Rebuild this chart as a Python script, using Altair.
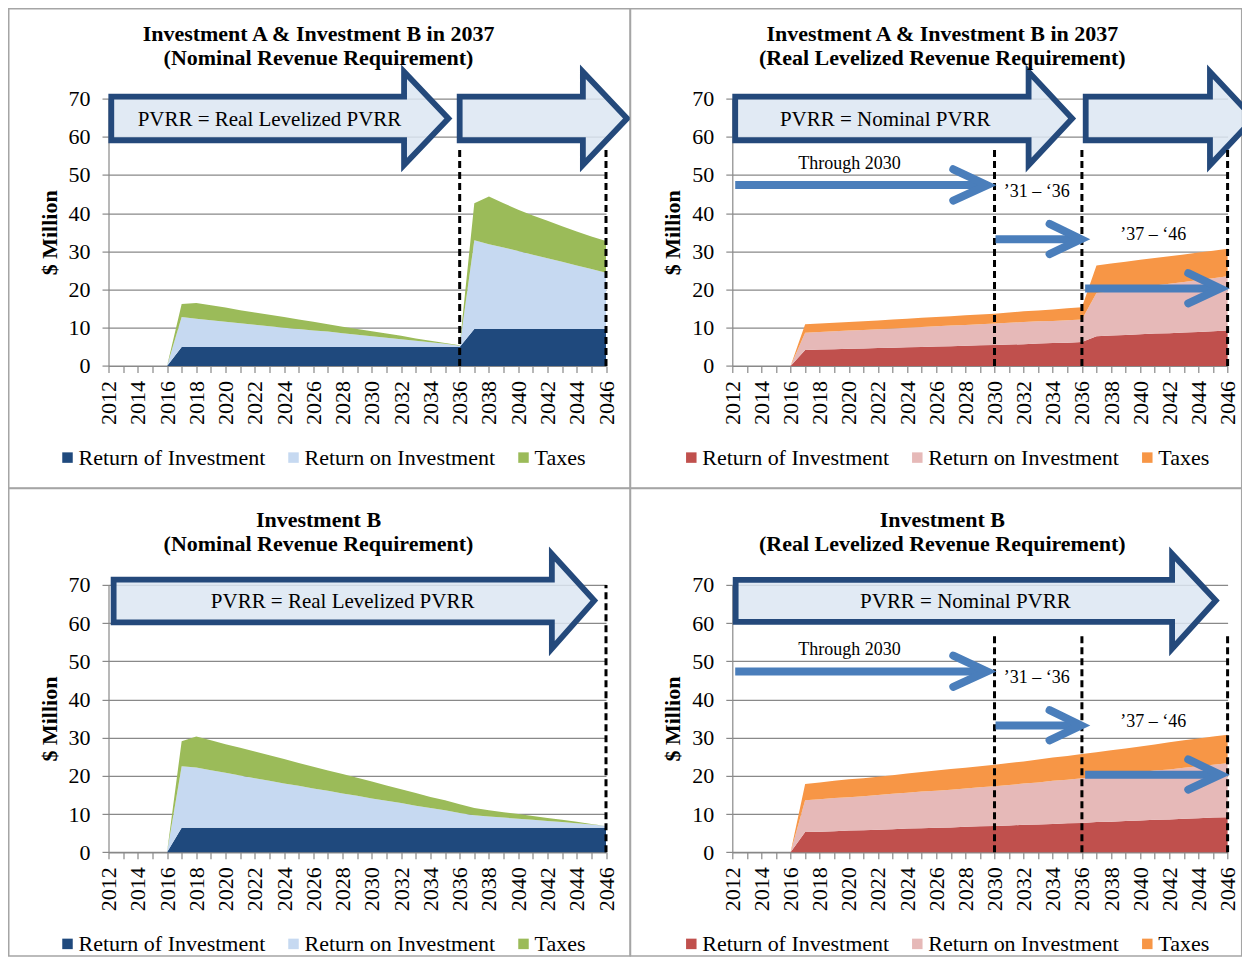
import altair as alt
import pandas as pd

FONT = "Liberation Serif"
GRID = "#898989"
FRAME = "#A5A5A5"
ARROW_FILL = "#DCE6F2"
ARROW_LINE = "#24497B"
BLUE = "#4A7EBB"

YEARS = list(range(2012, 2047))
SERIES = ["Return of Investment", "Return on Investment", "Taxes"]
COLORS_NOMINAL = ["#1F497D", "#C6D9F1", "#9BBB59"]
COLORS_REAL = ["#C0504D", "#E6B9B8", "#F79646"]
Y_TICKS = [0, 10, 20, 30, 40, 50, 60, 70]

# ---- values, 2012 .. 2046 ($ million) ----
AB_NOM_OF = [0, 0, 0, 0, 0,
             5.0, 5.0, 5.0, 5.0, 5.0, 5.0, 5.0, 5.0, 5.0, 5.0,
             5.0, 5.0, 5.0, 5.0, 5.0, 5.0, 5.0, 5.0, 5.0, 5.0,
             9.7, 9.7, 9.7, 9.7, 9.7, 9.7, 9.7, 9.7, 9.7, 9.7]
AB_NOM_ON = [0, 0, 0, 0, 0,
             7.8, 7.4, 7.0, 6.6, 6.2, 5.8, 5.4, 5.0, 4.7, 4.3,
             4.0, 3.6, 3.2, 2.8, 2.4, 2.0, 1.6, 1.2, 0.8, 0.3,
             23.2, 22.2, 21.3, 20.4, 19.4, 18.5, 17.6, 16.6, 15.7, 14.7]
AB_NOM_TAX = [0, 0, 0, 0, 0,
              3.4, 4.1, 3.9, 3.7, 3.4, 3.2, 3.0, 2.8, 2.5, 2.3,
              1.9, 1.7, 1.5, 1.3, 1.1, 0.9, 0.6, 0.4, 0.2, 0.1,
              9.7, 12.5, 11.6, 10.8, 10.3, 9.8, 9.3, 8.9, 8.5, 8.3]

AB_REAL_OF = [0, 0, 0, 0, 0,
              4.2, 4.3, 4.4, 4.5, 4.6, 4.7, 4.8, 4.9, 5.0, 5.1,
              5.2, 5.3, 5.4, 5.5, 5.6, 5.7, 5.9, 6.0, 6.1, 6.3,
              7.8, 8.0, 8.1, 8.3, 8.5, 8.6, 8.8, 8.9, 9.1, 9.3]
AB_REAL_ON = [0, 0, 0, 0, 0,
              4.5, 4.6, 4.7, 4.8, 4.8, 4.9, 5.0, 5.1, 5.2, 5.3,
              5.4, 5.4, 5.5, 5.6, 5.7, 5.8, 5.8, 5.8, 5.9, 5.9,
              11.3, 11.6, 12.0, 12.3, 12.6, 12.9, 13.2, 13.6, 13.9, 14.2]
AB_REAL_TAX = [0, 0, 0, 0, 0,
               2.2, 2.2, 2.2, 2.2, 2.3, 2.3, 2.4, 2.4, 2.4, 2.4,
               2.4, 2.6, 2.6, 2.6, 2.7, 2.8, 2.8, 3.0, 3.1, 3.2,
               7.2, 7.2, 7.2, 7.2, 7.2, 7.2, 7.2, 7.2, 7.2, 7.2]

B_NOM_OF = [0, 0, 0, 0, 0,
            6.4, 6.4, 6.4, 6.4, 6.4, 6.4, 6.4, 6.4, 6.4, 6.4,
            6.4, 6.4, 6.4, 6.4, 6.4, 6.4, 6.4, 6.4, 6.4, 6.4,
            6.4, 6.4, 6.4, 6.4, 6.4, 6.4, 6.4, 6.4, 6.4, 6.4]
B_NOM_ON = [0, 0, 0, 0, 0,
            16.1, 15.8, 15.1, 14.4, 13.7, 13.0, 12.3, 11.6, 11.0, 10.3,
            9.7, 9.0, 8.4, 7.7, 7.1, 6.5, 5.8, 5.2, 4.6, 3.9,
            3.3, 3.0, 2.7, 2.4, 2.1, 1.8, 1.5, 1.2, 0.9, 0.5]
B_NOM_TAX = [0, 0, 0, 0, 0,
             6.6, 8.1, 7.8, 7.5, 7.3, 7.0, 6.7, 6.4, 6.0, 5.7,
             5.3, 5.1, 4.7, 4.4, 4.0, 3.6, 3.3, 2.9, 2.6, 2.3,
             1.9, 1.6, 1.4, 1.2, 1.0, 0.8, 0.6, 0.4, 0.1, 0.0]

B_REAL_OF = [0, 0, 0, 0, 0,
             5.3, 5.4, 5.5, 5.7, 5.8, 5.9, 6.0, 6.2, 6.3, 6.4,
             6.5, 6.7, 6.8, 6.9, 7.0, 7.2, 7.3, 7.4, 7.6, 7.7,
             7.9, 8.0, 8.2, 8.3, 8.5, 8.6, 8.8, 8.9, 9.1, 9.2]
B_REAL_ON = [0, 0, 0, 0, 0,
             8.3, 8.5, 8.7, 8.7, 8.9, 9.1, 9.3, 9.4, 9.6, 9.7,
             9.9, 10.0, 10.2, 10.4, 10.6, 10.8, 11.0, 11.3, 11.4, 11.7,
             11.9, 12.2, 12.4, 12.7, 12.9, 13.1, 13.3, 13.6, 13.8, 14.1]
B_REAL_TAX = [0, 0, 0, 0, 0,
              4.3, 4.4, 4.5, 4.7, 4.7, 4.8, 4.9, 5.0, 5.1, 5.3,
              5.4, 5.4, 5.5, 5.6, 5.8, 5.8, 6.0, 6.1, 6.2, 6.3,
              6.4, 6.5, 6.6, 6.7, 6.8, 7.1, 7.2, 7.3, 7.4, 7.5]

# ---- annotation shapes (year, $M) ----
P1_ARROWS = [
    [(2012.19, 70.5), (2032.2, 70.5), (2032.2, 77.0), (2035.23, 64.8), (2032.2, 52.6), (2032.2, 59.1), (2012.19, 59.1)],
    [(2036.0, 70.5), (2044.42, 70.5), (2044.42, 77.0), (2047.44, 64.8), (2044.42, 52.6), (2044.42, 59.1), (2036.0, 59.1)],
]
P2_ARROWS = [
    [(2012.2, 70.5), (2032.34, 70.5), (2032.34, 77.0), (2035.33, 64.8), (2032.34, 52.6), (2032.34, 59.1), (2012.2, 59.1)],
    [(2036.26, 70.5), (2044.79, 70.5), (2044.79, 77.0), (2047.8, 64.8), (2044.79, 52.6), (2044.79, 59.1), (2036.26, 59.1)],
]
P3_ARROWS = [
    [(2012.35, 71.4), (2042.3, 71.4), (2042.3, 78.1), (2045.2, 65.9), (2042.3, 53.3), (2042.3, 60.2), (2012.35, 60.2)],
]
P4_ARROWS = [
    [(2012.23, 71.3), (2042.19, 71.3), (2042.19, 78.1), (2045.19, 65.9), (2042.19, 53.3), (2042.19, 60.3), (2012.23, 60.3)],
]

BLUE_SHAFTS = [(2012.2, 2029.1, 47.35), (2030.07, 2035.6, 33.2), (2036.22, 2045.1, 20.3)]
BLUE_HEADS = [
    [(2027.17, 51.5), (2029.49, 47.35), (2027.17, 43.3)],
    [(2033.78, 37.2), (2035.94, 33.2), (2033.78, 29.3)],
    [(2043.3, 24.3), (2045.5, 20.3), (2043.3, 16.4)],
]
PERIOD_LABELS = ["Through 2030", "\u201931 \u2013 \u201836", "\u201937 \u2013 \u201846"]
PERIOD_POS = [(2020.05, 52.9), (2032.9, 45.6), (2040.9, 34.2)]

XS = alt.Scale(domain=[2012, 2046], nice=False, zero=False)
YS = alt.Scale(domain=[0, 70], nice=False, zero=True)
ONE = pd.DataFrame({"k": [0]})

LEFT_W, RIGHT_W, PLOT_H = 497.5, 495.3, 267.4

X_AXIS = alt.Axis(values=YEARS, format="d",
                  labelExpr="datum.value % 2 === 0 ? datum.label : ''",
                  labelAngle=270, labelFont=FONT, labelFontSize=22, labelColor="black",
                  labelPadding=8, labelFlush=False, labelOverlap=False,
                  tickSize=6.5, tickColor=GRID, tickWidth=1.2,
                  domainColor=GRID, domainWidth=1.2, grid=False, title=None)
Y_AXIS = alt.Axis(values=Y_TICKS, labelFont=FONT, labelFontSize=22, labelColor="black",
                  labelPadding=12, tickSize=6.5, tickColor=GRID, tickWidth=1.2,
                  domainColor=GRID, domainWidth=1.2, grid=True, gridColor=GRID,
                  gridWidth=1.2, title="$ Million", titleFont=FONT, titleFontSize=22,
                  titleFontWeight="bold", titleColor="black", titlePadding=7)


def xq(field):
    return alt.X(field, type="quantitative", scale=XS, axis=X_AXIS)


def yq(field, **kw):
    return alt.Y(field, type="quantitative", scale=YS, axis=Y_AXIS, **kw)


def panel(of_v, on_v, tax_v, colors, title1, title2, width, frame,
          arrows, arrow_label, arrow_label_pos, dash_years, dash_top, blue_arrows):
    rows = []
    for k, (name, vals) in enumerate(zip(SERIES, [of_v, on_v, tax_v])):
        assert len(vals) == len(YEARS)
        for yr, v in zip(YEARS, vals):
            rows.append({"year": yr, "value": v, "series": name, "k": k})
    df = pd.DataFrame(rows)

    legend = alt.Legend(title=None, orient="none", legendX=-52, legendY=348,
                        direction="horizontal", columns=3, symbolType="square",
                        symbolSize=110, symbolStrokeWidth=0, labelFont=FONT,
                        labelFontSize=22, labelColor="black", columnPadding=17,
                        labelOffset=0, labelLimit=400, padding=0)

    border = alt.Chart(ONE).mark_rect(fillOpacity=0, stroke=FRAME, strokeWidth=1.5).encode(
        x=alt.value(frame[0]), x2=alt.value(frame[1]),
        y=alt.value(frame[2]), y2=alt.value(frame[3]))

    area = alt.Chart(df).mark_area(interpolate="linear").encode(
        x=xq("year"),
        y=yq("value", stack="zero"),
        color=alt.Color("series:N", scale=alt.Scale(domain=SERIES, range=colors),
                        sort=SERIES, legend=legend),
        order=alt.Order("k:Q", sort="ascending"),
    )

    arows = []
    for i, pts in enumerate(arrows):
        for j, (ax, ay) in enumerate(pts):
            arows.append({"year": ax, "value": ay, "aid": i, "o": j})
    big = alt.Chart(pd.DataFrame(arows)).mark_line(
        interpolate="linear-closed", fill=ARROW_FILL, fillOpacity=0.85,
        stroke=ARROW_LINE, strokeWidth=5.8, strokeJoin="miter").encode(
        x=xq("year"), y=yq("value"), detail="aid:N", order="o:Q")

    big_text = alt.Chart(pd.DataFrame({"year": [arrow_label_pos[0]],
                                       "value": [arrow_label_pos[1]],
                                       "t": [arrow_label]})).mark_text(
        font=FONT, fontSize=21, color="black", align="center", baseline="middle").encode(
        x=xq("year"), y=yq("value"), text="t:N")

    dashes = alt.Chart(pd.DataFrame({"year": dash_years, "value": [0] * len(dash_years),
                                     "top": [dash_top] * len(dash_years)})).mark_rule(
        color="black", strokeWidth=3, strokeDash=[7, 4]).encode(
        x=xq("year"), y=yq("value"), y2="top:Q")

    layers = [border, area, big, big_text, dashes]

    if blue_arrows:
        shafts = alt.Chart(pd.DataFrame({"year": [s[0] for s in BLUE_SHAFTS],
                                         "end": [s[1] for s in BLUE_SHAFTS],
                                         "value": [s[2] for s in BLUE_SHAFTS]})).mark_rule(
            color=BLUE, strokeWidth=8).encode(
            x=xq("year"), x2="end:Q", y=yq("value"))
        hrows = []
        for i, pts in enumerate(BLUE_HEADS):
            for j, (hx, hy) in enumerate(pts):
                hrows.append({"year": hx, "value": hy, "hid": i, "o": j})
        heads = alt.Chart(pd.DataFrame(hrows)).mark_line(
            color=BLUE, strokeWidth=8, strokeCap="round", strokeJoin="miter").encode(
            x=xq("year"), y=yq("value"), detail="hid:N", order="o:Q")
        plabels = alt.Chart(pd.DataFrame({"year": [p[0] for p in PERIOD_POS],
                                          "value": [p[1] for p in PERIOD_POS],
                                          "t": PERIOD_LABELS})).mark_text(
            font=FONT, fontSize=18, color="black", align="center", baseline="middle").encode(
            x=xq("year"), y=yq("value"), text="t:N")
        layers += [shafts, heads, plabels]

    t1 = alt.Chart(ONE).mark_text(text=title1, font=FONT, fontSize=22, fontWeight="bold",
                                  color="black", align="center", baseline="middle").encode(
        x=alt.value(210), y=alt.value(-65))
    t2 = alt.Chart(ONE).mark_text(text=title2, font=FONT, fontSize=22, fontWeight="bold",
                                  color="black", align="center", baseline="middle").encode(
        x=alt.value(210), y=alt.value(-40.5))
    layers += [t1, t2]
    return alt.layer(*layers).properties(width=width, height=PLOT_H)


p1 = panel(AB_NOM_OF, AB_NOM_ON, AB_NOM_TAX, COLORS_NOMINAL,
           "Investment A & Investment B in 2037", "(Nominal Revenue Requirement)",
           LEFT_W, (-99.75, 521.5, -89.85, 389.4),
           P1_ARROWS, "PVRR = Real Levelized PVRR", (2023.0, 64.3),
           [2036, 2046], 57.6, False)
p2 = panel(AB_REAL_OF, AB_REAL_ON, AB_REAL_TAX, COLORS_REAL,
           "Investment A & Investment B in 2037", "(Real Levelized Revenue Requirement)",
           RIGHT_W, (-101.8, 509.4, -89.85, 389.4),
           P2_ARROWS, "PVRR = Nominal PVRR", (2022.5, 64.3),
           [2030, 2036, 2046], 57.6, True)
p3 = panel(B_NOM_OF, B_NOM_ON, B_NOM_TAX, COLORS_NOMINAL,
           "Investment B", "(Nominal Revenue Requirement)",
           LEFT_W, (-99.75, 521.5, -96.3, 371.2),
           P3_ARROWS, "PVRR = Real Levelized PVRR", (2028.0, 65.5),
           [2046], 70, False)
p4 = panel(B_REAL_OF, B_REAL_ON, B_REAL_TAX, COLORS_REAL,
           "Investment B", "(Real Levelized Revenue Requirement)",
           RIGHT_W, (-101.8, 509.4, -96.3, 371.2),
           P4_ARROWS, "PVRR = Nominal PVRR", (2028.0, 65.5),
           [2030, 2036, 2046], 57.4, True)

chart = alt.concat(p1, p2, p3, p4, columns=2,
                   spacing={"row": 218.3, "column": 125.8}, bounds="flush").resolve_scale(
    x="independent", y="independent", color="independent").resolve_legend(
    color="independent").properties(
    autosize=alt.AutoSizeParams(type="none"),
    padding={"left": 100.5, "top": 90.6, "right": 1133.5, "bottom": 858.0},
    background="white").configure_view(strokeWidth=0)

chart.save("out.html", embed_options={"renderer": "svg", "actions": False})
